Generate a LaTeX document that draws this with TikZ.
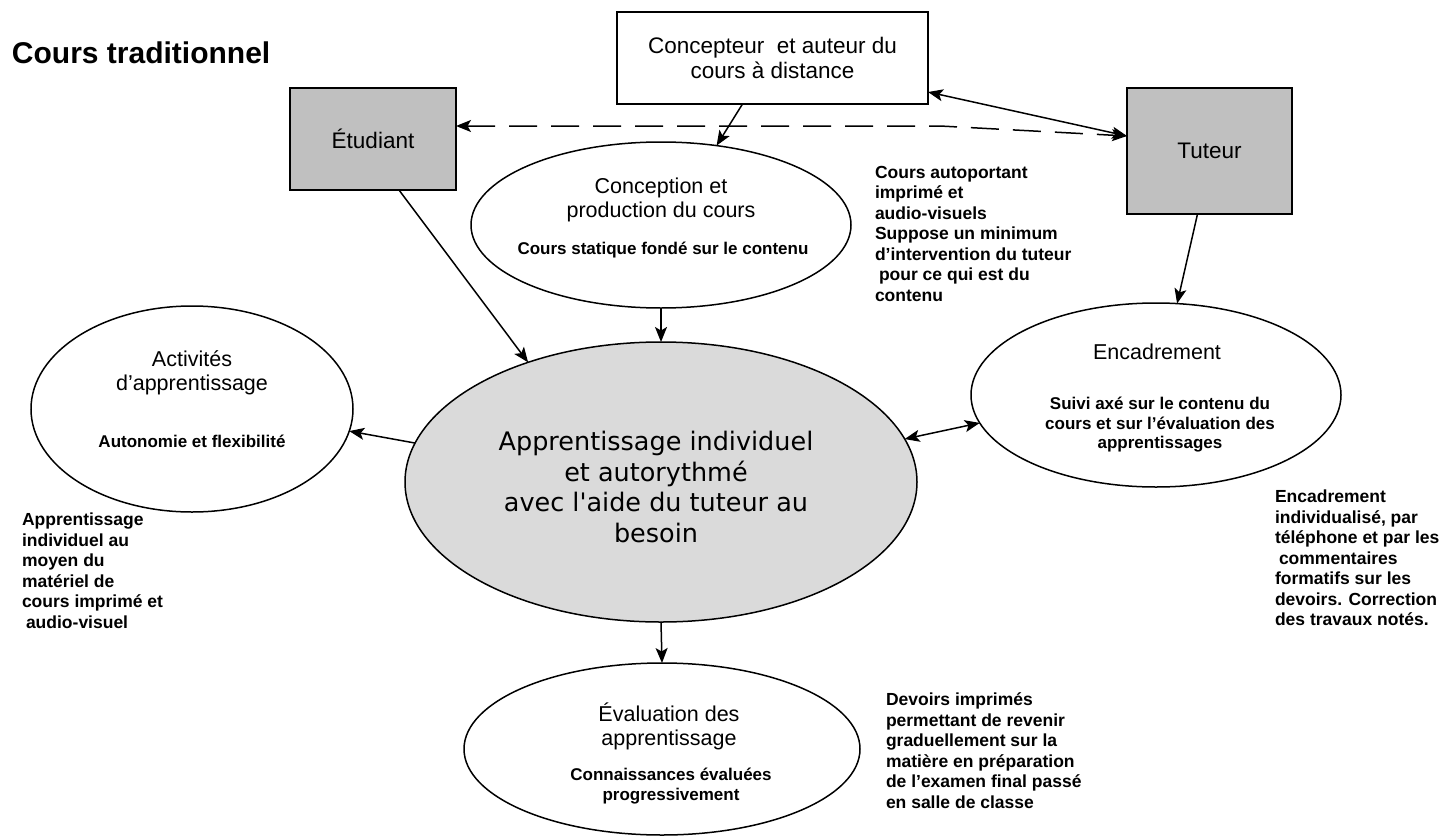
\documentclass[tikz,border=0pt]{standalone}
\usepackage{fontspec}
\setmainfont{Liberation Sans}
\newfontfamily\ctrfont{DejaVu Sans}
\usetikzlibrary{shapes.geometric,arrows.meta,calc}
\definecolor{boxgray}{RGB}{192,192,192}
\definecolor{ctrgray}{RGB}{218,218,218}
\tikzset{
  every node/.style={inner sep=0pt, outer sep=0pt},
  box/.style={draw, line width=1.7pt, rectangle, align=center, font=\fontsize{22.5}{25}\selectfont},
  greybox/.style={box, fill=boxgray},
  oval/.style={draw, ellipse, line width=1.5pt},
  ovaltitle/.style={align=center, font=\fontsize{21.5}{24}\selectfont},
  ovalsmall/.style={align=center, font=\bfseries\fontsize{17}{19.5}\selectfont},
  note/.style={align=left, anchor=north west, font=\bfseries\fontsize{17.5}{20.5}\selectfont},
  tip/.tip={Stealth[length=15pt,width=12pt,inset=3.5pt]},
  link/.style={line width=1.5pt, -tip},
  duallink/.style={line width=1.5pt, tip-tip},
  dashlink/.style={duallink, dash pattern=on 28pt off 14pt}
}
\begin{document}
\begin{tikzpicture}[x=1pt,y=-1pt]
\fill[white] (0,0) rectangle (1443,838);
\useasboundingbox (0,0) rectangle (1443,838);

% title
\node[anchor=west, font=\bfseries\fontsize{30}{36}\selectfont] (title) at (12,53) {Cours traditionnel};

% boxes
\node[box, minimum width=311pt, minimum height=92pt] (cpt) at (772.5,58) {Concepteur\ \ et auteur du\\cours à distance};
\node[greybox, minimum width=166pt, minimum height=102pt] (etu) at (373,139) {Étudiant};
\node[greybox, minimum width=165pt, minimum height=126pt] (tut) at (1209.5,151) {Tuteur};

% ellipses
\node[oval, minimum width=380pt, minimum height=166pt] (conc) at (661,225) {};
\node[oval, fill=ctrgray, minimum width=512pt, minimum height=280pt] (ctr) at (661,482) {};
\node[oval, minimum width=322pt, minimum height=206pt] (act) at (192,409) {};
\node[oval, minimum width=370pt, minimum height=184pt] (enc) at (1156,395) {};
\node[oval, minimum width=396pt, minimum height=172pt] (eval) at (662,749) {};

% ellipse texts
\node[ovaltitle] (concT) at (661,200) {Conception et\\production du cours};
\node[ovalsmall] (concS) at (663,250) {Cours statique fondé sur le contenu};

\node[align=center, font=\ctrfont\fontsize{25.5}{30.5}\selectfont] (ctrT) at (656,487)
  {Apprentissage individuel\\et autorythmé\\avec l'aide du tuteur au\\besoin};

\node[ovaltitle] (actT) at (192,373) {Activités\\d'apprentissage};
\node[ovalsmall] (actS) at (192,441) {Autonomie et flexibilité};

\node[ovaltitle] (encT) at (1157,352) {Encadrement};
\node[ovalsmall] (encS) at (1160,425) {Suivi axé sur le contenu du\\cours et sur l'évaluation des\\apprentissages};

\node[ovaltitle] (evalT) at (669,726) {Évaluation des\\apprentissage};
\node[ovalsmall] (evalS) at (671,786) {Connaissances évaluées\\progressivement};

% notes
\node[note] (n1) at (875,166) {Cours autoportant\\imprimé et\\audio-visuels\\Suppose un minimum\\d'intervention du tuteur\\\hspace*{4pt}pour ce qui est du\\contenu};
\node[note] (n2) at (22,513) {Apprentissage\\individuel au\\moyen du\\matériel de\\cours imprimé et\\\hspace*{4pt}audio-visuel};
\node[note] (n3) at (1275,490) {Encadrement\\individualisé, par\\téléphone et par les\\\hspace*{4pt}commentaires\\formatifs sur les\\devoirs. Correction\\des travaux notés.};
\node[note] (n4) at (886,693) {Devoirs imprimés\\permettant de revenir\\graduellement sur la\\matière en préparation\\de l'examen final passé\\en salle de classe};

% connectors
\draw[link] ($(cpt.south)+(-30,0)$) -- (conc.55);
\draw[link] (conc.south) -- (ctr.north);
\draw[link] ($(etu.south)+(26,0)$) -- (ctr.138);
\draw[link] (ctr.171) -- (act.-8);
\draw[duallink] (ctr.10) -- (enc.189);
\draw[link] ($(tut.south)+(-12,0)$) -- (enc.77);
\draw[link] (ctr.south) -- (eval.north);
\draw[duallink] ($(cpt.south east)+(0,-12)$) -- ($(tut.west)+(0,-15)$);
\coordinate (bend) at (940,126);
\draw[dashlink] ($(etu.east)+(0,-13)$) -- (bend) -- ($(tut.west)+(0,-15)$);
\end{tikzpicture}
\end{document}
